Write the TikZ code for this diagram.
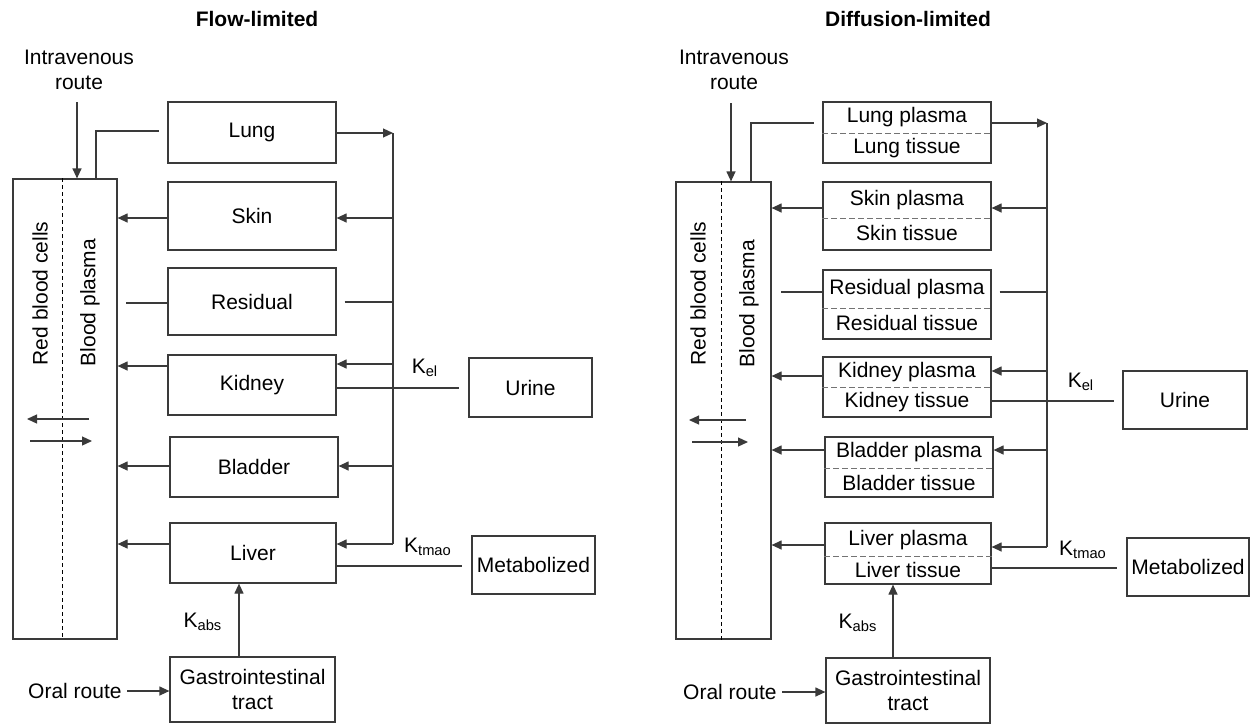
\documentclass[tikz,border=0pt]{standalone}
\usepackage{fontspec}
\setmainfont{Liberation Sans}
\usetikzlibrary{arrows.meta,calc}
\definecolor{lc}{HTML}{3A3A3A}
\begin{document}
\begin{tikzpicture}[x=0.5pt,y=-0.5pt,
  font=\fontsize{10.5}{12.6}\selectfont,
  box/.style={draw=lc, line width=0.6pt, inner sep=0pt, align=center},
  txt/.style={inner sep=0pt, align=center},
  conn/.style={draw=lc, line width=0.6pt},
  arr/.style={conn, -{Triangle[length=5pt,width=4.5pt]}},
  half/.style={draw=black!55, line width=0.5pt, dash pattern=on 3pt off 1.5pt},
  rbc/.style={draw=black, line width=0.5pt, dash pattern=on 2pt off 1.5pt}]
\useasboundingbox (0,0) rectangle (1254,724);

% ================= Flow-limited =================
\node[txt, font=\fontsize{10.5}{12.6}\selectfont\bfseries] (t1) at (257,19) {Flow-limited};
\node[txt] (iv1) at (79,70) {Intravenous\\route};

\node[box, minimum width=52pt, minimum height=230pt] (blood1) at (65,409) {};
\node[box, minimum width=84pt, minimum height=30.5pt] (lung1) at (252,132.5) {Lung};
\node[box, minimum width=84pt, minimum height=34pt] (skin1) at (252,216) {Skin};
\node[box, minimum width=84pt, minimum height=33.5pt] (res1) at (252,301.5) {Residual};
\node[box, minimum width=84pt, minimum height=30pt] (kid1) at (252,385) {Kidney};
\node[box, minimum width=84pt, minimum height=30pt] (bla1) at (254,467) {Bladder};
\node[box, minimum width=83pt, minimum height=30pt] (liv1) at (253,553) {Liver};
\node[box, minimum width=82.5pt, minimum height=32.5pt] (gi1) at (252.5,689.5) {Gastrointestinal\\tract};
\node[box, minimum width=61.5pt, minimum height=29.5pt] (uri1) at (530.5,387.5) {Urine};
\node[box, minimum width=61.5pt, minimum height=29pt] (met1) at (533.5,565) {Metabolized};

\draw[rbc] (blood1.north -| 62,0) -- (blood1.south -| 62,0);
\node[txt, rotate=90] (rbct1) at (40,293.5) {Red blood cells};
\node[txt, rotate=90] (bpt1) at (90,302.5) {Blood plasma};
\coordinate (ra1) at (89,419); \coordinate (rb1) at (27,419);
\coordinate (rc1) at (30,441); \coordinate (rd1) at (92,441);
\draw[arr] (ra1) -- (rb1);
\draw[arr] (rc1) -- (rd1);

\coordinate (ivs1) at (77,102);
\draw[arr] (ivs1) -- (blood1.north -| ivs1);
\draw[conn] (blood1.north -| 96,0) |- ([xshift=-4pt]lung1.west |- 0,131);
\coordinate (bus1) at (393,0);
\draw[arr] (lung1.east |- 0,133) -- (bus1 |- 0,133);
\draw[conn] (bus1 |- 0,133) -- (bus1 |- 0,544);
\draw[arr] (skin1.west |- 0,218) -- (blood1.east |- 0,218);
\draw[arr] (bus1 |- 0,218) -- (skin1.east |- 0,218);
\draw[conn] (res1.west |- 0,303) -- ([xshift=4pt]blood1.east |- 0,303);
\draw[conn] ([xshift=4pt]res1.east |- 0,302) -- (bus1 |- 0,302);
\draw[arr] (kid1.west |- 0,366) -- (blood1.east |- 0,366);
\draw[arr] (bus1 |- 0,364) -- (kid1.east |- 0,364);
\draw[conn] (kid1.east |- 0,388) -- ([xshift=-4.5pt]uri1.west |- 0,388);
\node[txt] (kel1) at (425,368) {K\textsubscript{el}};
\draw[arr] (bla1.west |- 0,466) -- (blood1.east |- 0,466);
\draw[arr] (bus1 |- 0,466) -- (bla1.east |- 0,466);
\draw[arr] (liv1.west |- 0,544) -- (blood1.east |- 0,544);
\draw[arr] (bus1 |- 0,544) -- (liv1.east |- 0,544);
\draw[conn] (liv1.east |- 0,566) -- ([xshift=-4.5pt]met1.west |- 0,566);
\node[txt] (ktm1) at (428,547) {K\textsubscript{tmao}};
\draw[arr] (gi1.north -| 239,0) -- (liv1.south -| 239,0);
\node[txt] (kab1) at (203,622) {K\textsubscript{abs}};
\node[txt, anchor=east] (oral1) at (122,691) {Oral route};
\draw[arr] ([xshift=2.5pt]oral1.east) -- (gi1.west |- oral1.east);

% ================= Diffusion-limited =================
\node[txt, font=\fontsize{10.5}{12.6}\selectfont\bfseries] (t2) at (908,19) {Diffusion-limited};
\node[txt] (iv2) at (734,70) {Intravenous\\route};

\node[box, minimum width=47.5pt, minimum height=228.5pt] (blood2) at (723.5,410.5) {};
\node[box, minimum width=84pt, minimum height=30.5pt] (lung2) at (907,132.5) {};
\node[box, minimum width=84pt, minimum height=34pt] (skin2) at (907,216) {};
\node[box, minimum width=84pt, minimum height=34.5pt] (res2) at (907,304.5) {};
\node[box, minimum width=84pt, minimum height=30pt] (kid2) at (907,387) {};
\node[box, minimum width=84pt, minimum height=30pt] (bla2) at (909,467) {};
\node[box, minimum width=83pt, minimum height=30.5pt] (liv2) at (908,553.5) {};
\node[box, minimum width=82pt, minimum height=32.5pt] (gi2) at (908,690.5) {Gastrointestinal\\tract};
\node[box, minimum width=62pt, minimum height=29pt] (uri2) at (1185,400) {Urine};
\node[box, minimum width=61pt, minimum height=29pt] (met2) at (1188,567) {Metabolized};

\draw[half] (lung2.west |- 0,133) -- (lung2.east |- 0,133);
\draw[half] (skin2.west |- 0,218) -- (skin2.east |- 0,218);
\draw[half] (res2.west |- 0,308) -- (res2.east |- 0,308);
\draw[half] (kid2.west |- 0,387) -- (kid2.east |- 0,387);
\draw[half] (bla2.west |- 0,468) -- (bla2.east |- 0,468);
\draw[half] (liv2.west |- 0,556) -- (liv2.east |- 0,556);
\node[txt] (lungp) at (907,117.5) {Lung plasma};
\node[txt] (lungt) at (907,148) {Lung tissue};
\node[txt] (skinp) at (907,200) {Skin plasma};
\node[txt] (skint) at (907,233) {Skin tissue};
\node[txt] (resp) at (907,289) {Residual plasma};
\node[txt] (rest) at (907,322.5) {Residual tissue};
\node[txt] (kidp) at (907,372) {Kidney plasma};
\node[txt] (kidt) at (907,402) {Kidney tissue};
\node[txt] (blap) at (909,452.5) {Bladder plasma};
\node[txt] (blat) at (909,482.5) {Bladder tissue};
\node[txt] (livp) at (908,540) {Liver plasma};
\node[txt] (livt) at (908,569.5) {Liver tissue};

\draw[rbc] (blood2.north -| 721,0) -- (blood2.south -| 721,0);
\node[txt, rotate=90] (rbct2) at (698,293.5) {Red blood cells};
\node[txt, rotate=90] (bpt2) at (749,303.5) {Blood plasma};
\coordinate (ra2) at (746,420); \coordinate (rb2) at (689,420);
\coordinate (rc2) at (692,442); \coordinate (rd2) at (748,442);
\draw[arr] (ra2) -- (rb2);
\draw[arr] (rc2) -- (rd2);

\coordinate (ivs2) at (731,103);
\draw[arr] (ivs2) -- (blood2.north -| ivs2);
\draw[conn] (blood2.north -| 751,0) |- ([xshift=-4pt]lung2.west |- 0,123);
\coordinate (bus2) at (1047,0);
\draw[arr] (lung2.east |- 0,123) -- (bus2 |- 0,123);
\draw[conn] (bus2 |- 0,123) -- (bus2 |- 0,547);
\draw[arr] (skin2.west |- 0,208) -- (blood2.east |- 0,208);
\draw[arr] (bus2 |- 0,208) -- (skin2.east |- 0,208);
\draw[conn] (res2.west |- 0,292) -- ([xshift=4.5pt]blood2.east |- 0,292);
\draw[conn] ([xshift=4pt]res2.east |- 0,292) -- (bus2 |- 0,292);
\draw[arr] (kid2.west |- 0,376) -- (blood2.east |- 0,376);
\draw[arr] (bus2 |- 0,371) -- (kid2.east |- 0,371);
\draw[conn] (kid2.east |- 0,401) -- ([xshift=-4pt]uri2.west |- 0,401);
\node[txt] (kel2) at (1081,382) {K\textsubscript{el}};
\draw[arr] (bla2.west |- 0,450) -- (blood2.east |- 0,450);
\draw[arr] (bus2 |- 0,450) -- (bla2.east |- 0,450);
\draw[arr] (liv2.west |- 0,545) -- (blood2.east |- 0,545);
\draw[arr] (bus2 |- 0,547) -- (liv2.east |- 0,547);
\draw[conn] (liv2.east |- 0,568) -- ([xshift=-4.5pt]met2.west |- 0,568);
\node[txt] (ktm2) at (1083,550) {K\textsubscript{tmao}};
\draw[arr] (gi2.north -| 893,0) -- (liv2.south -| 893,0);
\node[txt] (kab2) at (858,623) {K\textsubscript{abs}};
\node[txt, anchor=east] (oral2) at (777,692) {Oral route};
\draw[arr] ([xshift=2.5pt]oral2.east) -- (gi2.west |- oral2.east);
\end{tikzpicture}
\end{document}
